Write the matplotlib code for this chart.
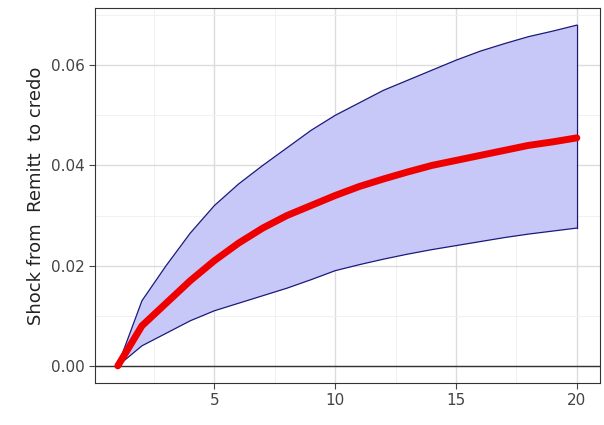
import matplotlib
matplotlib.use("Agg")
import matplotlib.pyplot as plt

steps = list(range(1, 21))
irf = [0.0, 0.008, 0.0125, 0.017, 0.021, 0.0245, 0.0275, 0.030, 0.032, 0.034, 0.0358, 0.0373, 0.0387, 0.040, 0.041, 0.042, 0.043, 0.044, 0.0447, 0.0455]
upper = [0.0, 0.013, 0.020, 0.0265, 0.032, 0.0363, 0.040, 0.0435, 0.047, 0.050, 0.0525, 0.055, 0.057, 0.059, 0.061, 0.0628, 0.0643, 0.0657, 0.0668, 0.068]
lower = [0.0, 0.004, 0.0065, 0.009, 0.011, 0.0125, 0.014, 0.0155, 0.0172, 0.019, 0.0202, 0.0213, 0.0223, 0.0232, 0.024, 0.0248, 0.0256, 0.0263, 0.0269, 0.0275]

fig = plt.figure(figsize=(6.04, 4.25), dpi=100)
ax = fig.add_axes([0.157, 0.099, 0.836, 0.882])
ax.set_axisbelow(True)
ax.fill_between(steps, lower, upper, facecolor="#c8c8f8", edgecolor="none", zorder=2)
ax.plot(steps, upper, color="#1a1a7a", lw=0.9, zorder=3)
ax.plot(steps, lower, color="#1a1a7a", lw=0.9, zorder=3)
ax.plot([20, 20], [lower[-1], upper[-1]], color="#1a1a7a", lw=0.9, zorder=3)
ax.plot(steps, irf, color="#ee0000", lw=5, zorder=4, solid_capstyle="round")
ax.axhline(0, color="#333333", lw=1, zorder=1.5)
ax.set_xlim(0.05, 20.95)
ax.set_ylim(-0.0034, 0.0714)
ax.set_xticks([5, 10, 15, 20])
ax.set_yticks([0, 0.02, 0.04, 0.06])
ax.set_yticklabels(["0.00", "0.02", "0.04", "0.06"])
ax.set_xticks([2.5, 7.5, 12.5, 17.5], minor=True)
ax.set_yticks([0.01, 0.03, 0.05, 0.07], minor=True)
ax.grid(True, which="major", color="#dcdcdc", lw=1)
ax.grid(True, which="minor", color="#efefef", lw=0.6)
ax.tick_params(which="minor", length=0)
ax.tick_params(labelsize=11, colors="#444444", length=4)
for s in ax.spines.values():
    s.set_color("#333333")
ax.set_ylabel("Shock from  Remitt  to credo", fontsize=13, color="#222222")
fig.savefig("out.png", dpi=100)
